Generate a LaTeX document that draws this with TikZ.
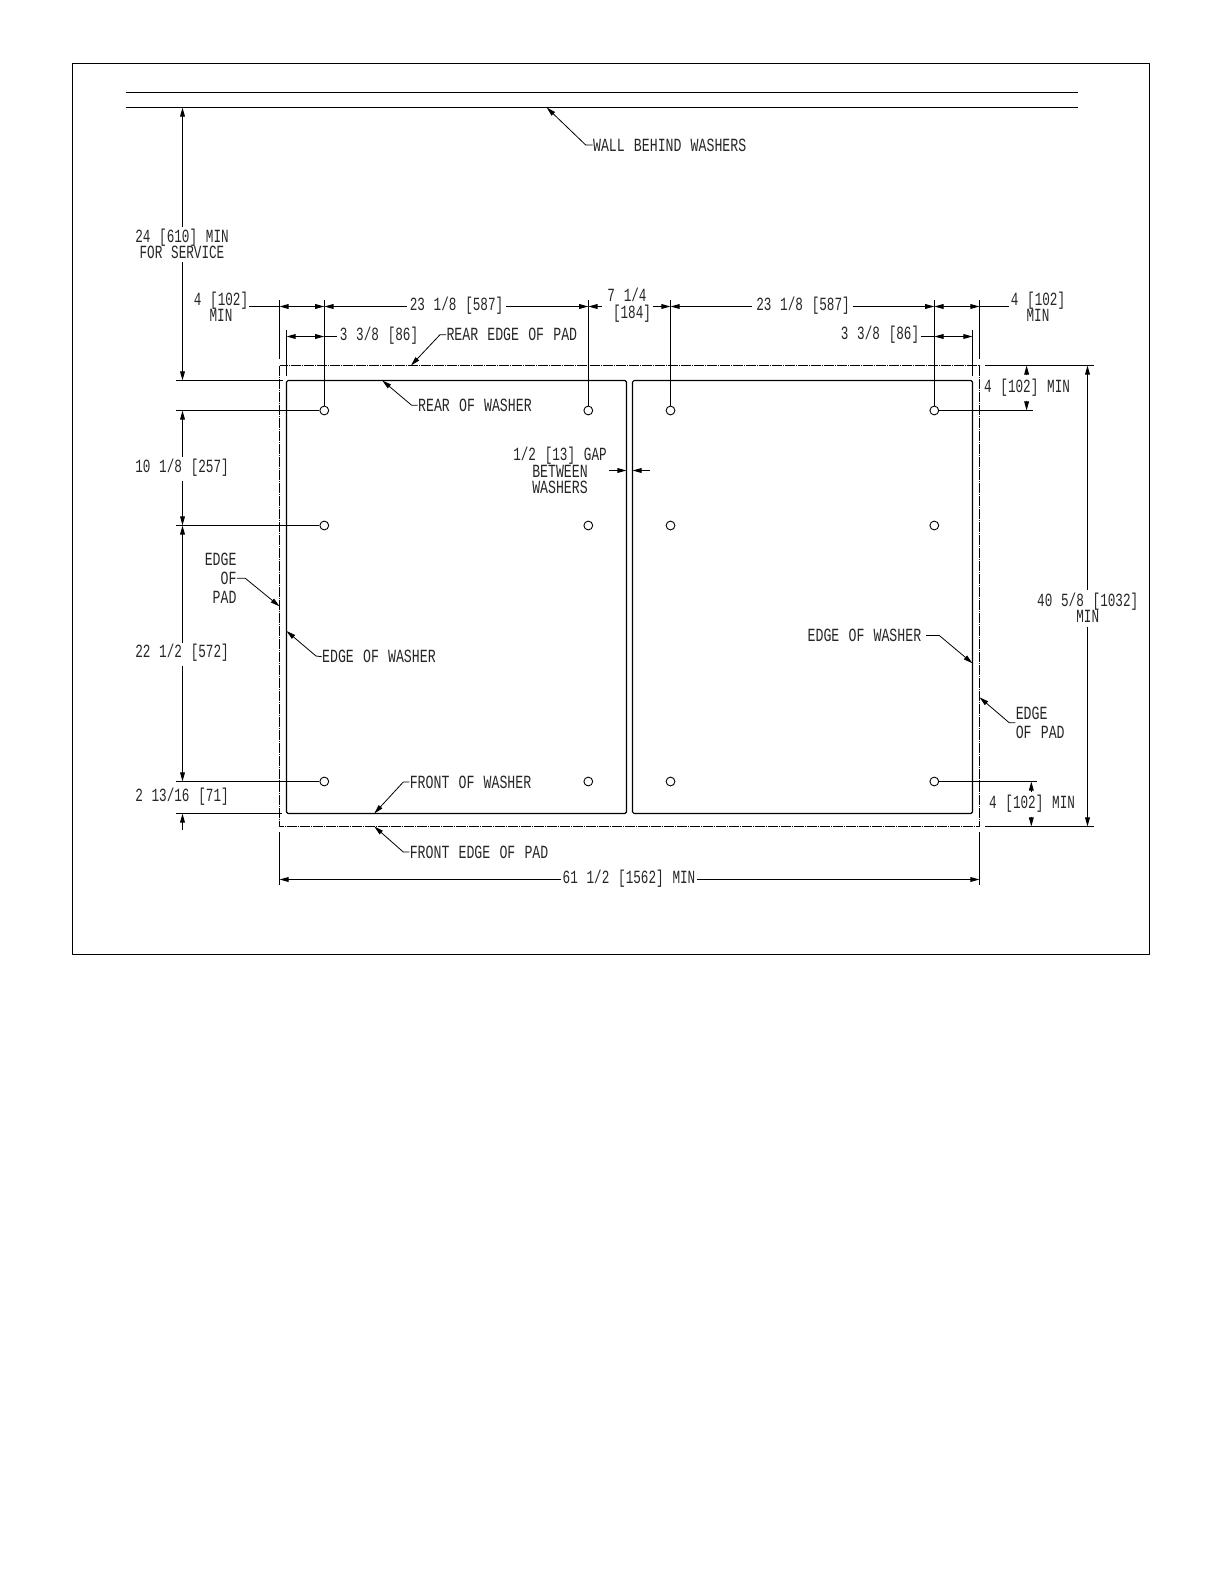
\documentclass[tikz,border=0pt]{standalone}
\usepackage{fontspec}
\usepackage{tikz}
\usetikzlibrary{arrows.meta}
\newfontfamily\cadfamily[FakeStretch=0.71]{Liberation Mono}
\newfontfamily\cadnumfamily[FakeStretch=0.68]{Liberation Mono}
\newcommand{\cadfont}{\cadfamily\fontsize{9.3}{8.2}\selectfont\spaceskip=4.6pt\relax}
\newcommand{\cadnum}{\cadnumfamily\fontsize{9.3}{8.2}\selectfont\spaceskip=4.4pt\relax}
\tikzset{
    lbl/.style={font=\cadfont,text=black!85,inner sep=0pt,text height=6.2pt,text depth=0pt},
    dim/.style={lbl,font=\cadnum},
    lblm/.style={font=\cadnum,text=black!85,inner sep=0pt,align=center},
    hole/.style={circle,draw,line width=0.45pt,inner sep=0pt,minimum size=4.4pt},
    leader/.style={->,line width=0.4pt},
    wash/.style={line width=0.6pt,rounded corners=0.8pt},
    pad/.style={line width=0.5pt,dash pattern=on 5pt off 0.5pt on 0.5pt off 0.5pt}
}
\begin{document}
\begin{tikzpicture}[line cap=butt,line join=round,>={Triangle[length=4.6pt,width=2.4pt]},x=0.5pt,y=-0.5pt,line width=0.5pt]
        \useasboundingbox (0,0) rectangle (1224,1584);
        \draw [line width=0.6pt] (72.5,63.5) rectangle (1149.5,954.5);
        \draw [line width=0.6pt] (125.5,92.5) -- (1078,92.5);
        \draw [line width=0.6pt] (125.5,107.5) -- (1078,107.5);
        \draw [pad] (279.5,365.5) rectangle (979.5,826.5);
        \draw [wash] (286.5,380.5) rectangle (626.5,813.5);
        \draw [wash] (632.5,380.5) rectangle (972.5,813.5);
        \node [hole] (h11) at (324.3,410.5) {};
        \node [hole] (h12) at (588.3,410.5) {};
        \node [hole] (h13) at (670.5,410.5) {};
        \node [hole] (h14) at (934.3,410.5) {};
        \node [hole] (h21) at (324.3,525.5) {};
        \node [hole] (h22) at (588.3,525.5) {};
        \node [hole] (h23) at (670.5,525.5) {};
        \node [hole] (h24) at (934.3,525.5) {};
        \node [hole] (h31) at (324.3,781.5) {};
        \node [hole] (h32) at (588.3,781.5) {};
        \node [hole] (h33) at (670.5,781.5) {};
        \node [hole] (h34) at (934.3,781.5) {};
        \draw (h11.north) -- (324.3,300.3);
        \draw (h12.north) -- (588.3,300.3);
        \draw (h13.north) -- (670.5,300.3);
        \draw (h14.north) -- (934.3,300.3);
        \draw (279.5,300.3) -- (279.5,359.3);
        \draw (979.5,300.3) -- (979.5,359.3);
        \draw (286.5,330) -- (286.5,376);
        \draw (972.5,330) -- (972.5,375.5);
        \draw (176,380.5) -- (282.5,380.5);
        \draw (h11.west) -- (176,410.5);
        \draw (h21.west) -- (176,525.5);
        \draw (h31.west) -- (176,781.5);
        \draw (176,813.5) -- (282,813.5);
        \draw (h14.east) -- (1033,410.5);
        \draw (h34.east) -- (1037.3,781.5);
        \draw (985,365.5) -- (1094,365.5);
        \draw (985,826.5) -- (1094,826.5);
        \draw (279.5,832) -- (279.5,885);
        \draw (979.5,832) -- (979.5,885);
        \node [lblm] (svc) at (182,244) {24 [610] MIN\\FOR SERVICE};
        \draw [->] (182.5,227) -- (182.5,107.5);
        \draw [->] (182.5,262) -- (182.5,380.5);
        \node [dim] (d101) at (182,466) {10 1/8 [257]};
        \draw [->] (182.5,456.7) -- (182.5,410.5);
        \draw [->] (182.5,480.7) -- (182.5,525.5);
        \node [dim] (d221) at (182,651.7) {22 1/2 [572]};
        \draw [->] (182.5,643.3) -- (182.5,525.5);
        \draw [->] (182.5,665.7) -- (182.5,781.5);
        \node [dim] (d213) at (182,795.3) {2 13/16 [71]};
        \draw [->] (182.5,830) -- (182.5,813.5);
        \node [lblm] (minl) at (221,307) {4 [102]\\MIN};
        \draw (249,306.5) -- (279.5,306.5);
        \draw [<->] (279.5,306.5) -- (324.3,306.5);
        \node [dim] (d231) at (456.5,304.7) {23 1/8 [587]};
        \draw [<-] (324.3,306.5) -- (406.7,306.5);
        \draw [->] (506,306.5) -- (588.3,306.5);
        \draw [<-] (588.3,306.5) -- (602,306.5);
        \node [lblm] (d71) at (632,305) {\hspace*{-5pt}7 1/4\\{}[184]};
        \draw [->] (652.7,306.5) -- (670.5,306.5);
        \draw [<-] (670.5,306.5) -- (752,306.5);
        \node [dim] (d232) at (803,304.7) {23 1/8 [587]};
        \draw [->] (852.5,306.5) -- (934.3,306.5);
        \draw [<->] (934.3,306.5) -- (979.5,306.5);
        \draw (979.5,306.5) -- (1009,306.5);
        \node [lblm] (minr) at (1038,307) {4 [102]\\MIN};
        \draw [<->] (286.5,336.5) -- (324.3,336.5);
        \draw (324.3,336.5) -- (336.7,336.5);
        \node [dim] (d331) at (379,334.3) {3 3/8 [86]};
        \draw (921.4,336.5) -- (934.3,336.5);
        \draw [<->] (934.3,336.5) -- (972.5,336.5);
        \node [dim] (d332) at (880,333.3) {3 3/8 [86]};
        \node [dim] (d41) at (1027,386.7) {4 [102] MIN};
        \draw [->] (1026.6,375) -- (1026.6,365.5);
        \draw [->] (1026.6,400.7) -- (1026.6,410.5);
        \node [dim] (d42) at (1032,802) {4 [102] MIN};
        \draw [->] (1031.3,791.7) -- (1031.3,781.5);
        \draw [->] (1031.3,816.7) -- (1031.3,826.5);
        \node [lblm] (d405) at (1087.7,608) {40 5/8 [1032]\\MIN};
        \draw [->] (1087.5,590) -- (1087.5,365.5);
        \draw [->] (1087.5,626.7) -- (1087.5,826.5);
        \node [dim] (d61) at (629,877) {61 1/2 [1562] MIN};
        \draw [->] (560.7,879.5) -- (279.5,879.5);
        \draw [->] (697.3,879.5) -- (979.5,879.5);
        \node [lblm] (gaplbl) at (560,470.7) {1/2 [13] GAP\\{\cadfont BETWEEN}\\{\cadfont WASHERS}};
        \draw [->] (609,470.5) -- (626.5,470.5);
        \draw [->] (650,470.5) -- (632.5,470.5);
        \node [lbl,anchor=west] (wall) at (592.6,145) {WALL BEHIND WASHERS};
        \draw [leader] (wall.west) -- (585.7,145) -- (546.7,107.5);
        \node [lbl,anchor=west] (rearpad) at (446,334.7) {REAR EDGE OF PAD};
        \draw [leader] (rearpad.west) -- (440,334.7) -- (411,365.5);
        \node [lbl,anchor=west] (rearw) at (417.7,405.3) {REAR OF WASHER};
        \draw [leader] (rearw.west) -- (411.7,405.3) -- (382.3,380.5);
        \node [lblm,anchor=east,align=right,font=\cadfont] (padl) at (237,578.3) {EDGE\\[1.3pt]OF\\[1.3pt]PAD};
        \draw [leader] (padl.east) -- (245.3,578.3) -- (279.5,606.3);
        \node [lbl,anchor=west] (washl) at (321.7,656.7) {EDGE OF WASHER};
        \draw [leader] (washl.west) -- (316,656) -- (286.5,631);
        \node [lbl,anchor=west] (frontw) at (409.3,782) {FRONT OF WASHER};
        \draw [leader] (frontw.west) -- (403.3,782) -- (374.3,813.5);
        \node [lbl,anchor=west] (frontp) at (409.3,852) {FRONT EDGE OF PAD};
        \draw [leader] (frontp.west) -- (403.3,852) -- (374.3,826.5);
        \node [lbl,anchor=east] (washr) at (921.7,635.7) {EDGE OF WASHER};
        \draw [leader] (926,635.5) -- (939.3,635.5) -- (972.5,663.3);
        \node [lblm,anchor=west,align=left,font=\cadfont] (padr) at (1015.3,722.8) {EDGE\\[1.3pt]OF PAD};
        \draw [leader] (padr.west) -- (1009.3,722.8) -- (979.5,697.3);
    \end{tikzpicture}
\end{document}
